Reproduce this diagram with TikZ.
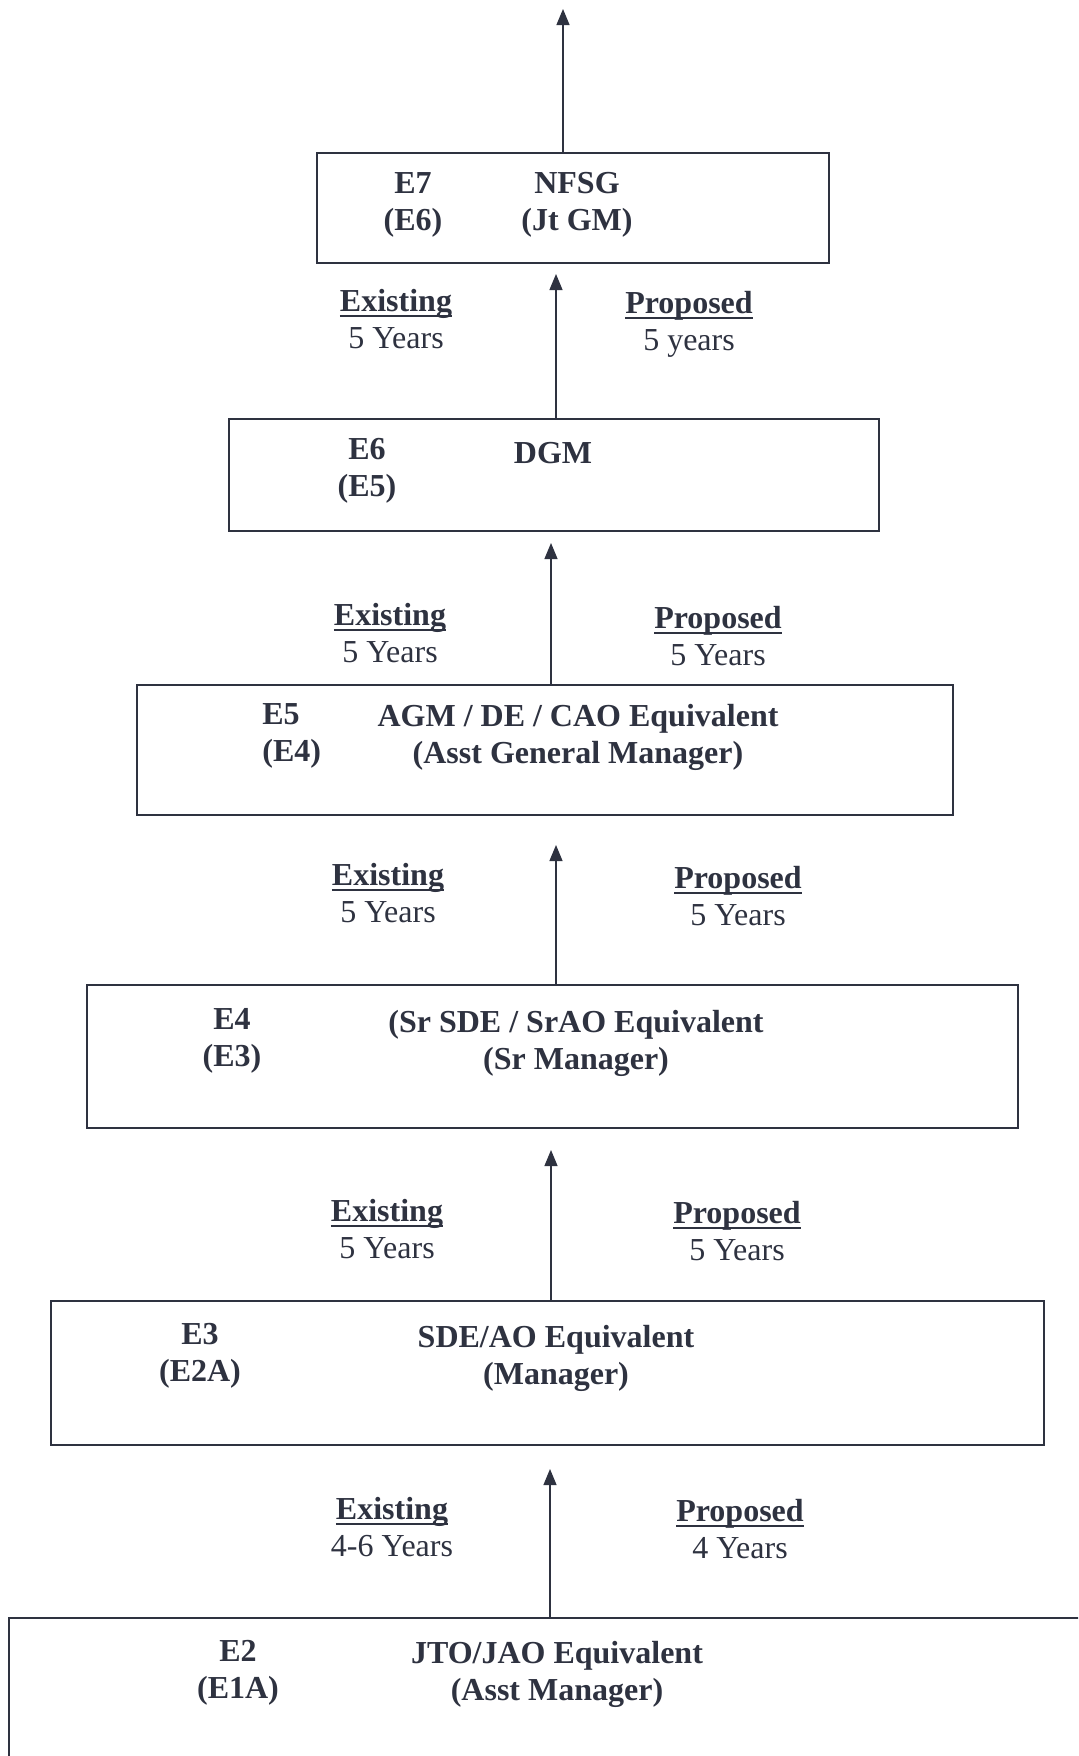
\documentclass[tikz,border=0pt]{standalone}
\usepackage{fontspec}
\setmainfont{Liberation Serif}
\usepackage{xcolor}
\usetikzlibrary{positioning}
\usetikzlibrary{arrows.meta}

\definecolor{ink}{RGB}{46,50,64}
\newcommand{\headword}[1]{\setbox0\hbox{\bfseries #1}\leavevmode\rlap{\rule[-3pt]{\wd0}{1.3pt}}\box0}

\tikzset{
    gradebox/.style={draw=ink, line width=1pt, inner sep=0pt},
    boxtext/.style={font=\bfseries\fontsize{16}{18.5}\selectfont, text=ink, align=center, inner sep=0pt},
    yeartext/.style={font=\fontsize{16}{18.5}\selectfont, text=ink, align=center, inner sep=0pt},
    uparrow/.style={draw=ink, line width=0.6pt, -{Triangle[length=8pt,width=6.5pt]}}
}

\begin{document}
\begin{tikzpicture}[x=0.5pt,y=-0.5pt]
    % Page frame
    \clip (0,0) rectangle (1078,1756);
    \fill[white] (0,0) rectangle (1078,1756);

    % Draw grade boxes
    \node[gradebox, minimum width=256pt, minimum height=55pt] (e7) at (573,208) {};
    \node[gradebox, minimum width=325pt, minimum height=56pt] (e6) at (554,475) {};
    \node[gradebox, minimum width=408pt, minimum height=65pt] (e5) at (545,750) {};
    \node[gradebox, minimum width=465.5pt, minimum height=71.5pt] (e4) at (552.5,1056.5) {};
    \node[gradebox, minimum width=496.5pt, minimum height=72pt] (e3) at (547.5,1373) {};
    \node[gradebox, minimum width=543pt, minimum height=80pt] (e2) at (552,1698) {};

    % Grade codes and titles
    \node[boxtext] (e7code) at (413,205) {E7\\(E6)};
    \node[boxtext] (e7name) at (577,205) {NFSG\\(Jt GM)};
    \node[boxtext] (e6code) at (367,471) {E6\\(E5)};
    \node[boxtext] (e6name) at (553,453) {DGM};
    \node[boxtext, anchor=west, align=left] (e5code) at (262,736) {E5\\(E4)};
    \node[boxtext] (e5name) at (578,737) {AGM / DE / CAO Equivalent\\(Asst General Manager)};
    \node[boxtext] (e4code) at (232,1041) {E4\\(E3)};
    \node[boxtext] (e4name) at (576,1043) {(Sr SDE / SrAO Equivalent\\(Sr Manager)};
    \node[boxtext] (e3code) at (200,1356) {E3\\(E2A)};
    \node[boxtext] (e3name) at (556,1358) {SDE/AO Equivalent\\(Manager)};
    \node[boxtext] (e2code) at (238,1673) {E2\\(E1A)};
    \node[boxtext] (e2name) at (557,1674) {JTO/JAO Equivalent\\(Asst Manager)};

    % Promotion arrows
    \foreach \g/\x/\y in {e7/563/9, e6/556/274, e5/551/543, e4/556/845, e3/551/1150, e2/550/1469} {
        \coordinate (tip\g) at (\x,\y);
        \draw[uparrow] (\g.north -| tip\g) -- (tip\g);
    }

    % Existing and proposed periods
    \foreach \i/\ye/\yp/\xe/\xp/\te/\tp in {1/319/324/396/689/5 Years/5 years,
                                      2/633/636/390/718/5 Years/5 Years,
                                      3/893/896/388/738/5 Years/5 Years,
                                      4/1229/1231/387/737/5 Years/5 Years,
                                      5/1527/1529/392/740/4-6 Years/4 Years} {
        \node[yeartext] (exist\i) at (\xe,\ye) {\headword{Existing}\\\te};
        \node[yeartext] (prop\i) at (\xp,\yp) {\headword{Proposed}\\\tp};
    }
\end{tikzpicture}
\end{document}
